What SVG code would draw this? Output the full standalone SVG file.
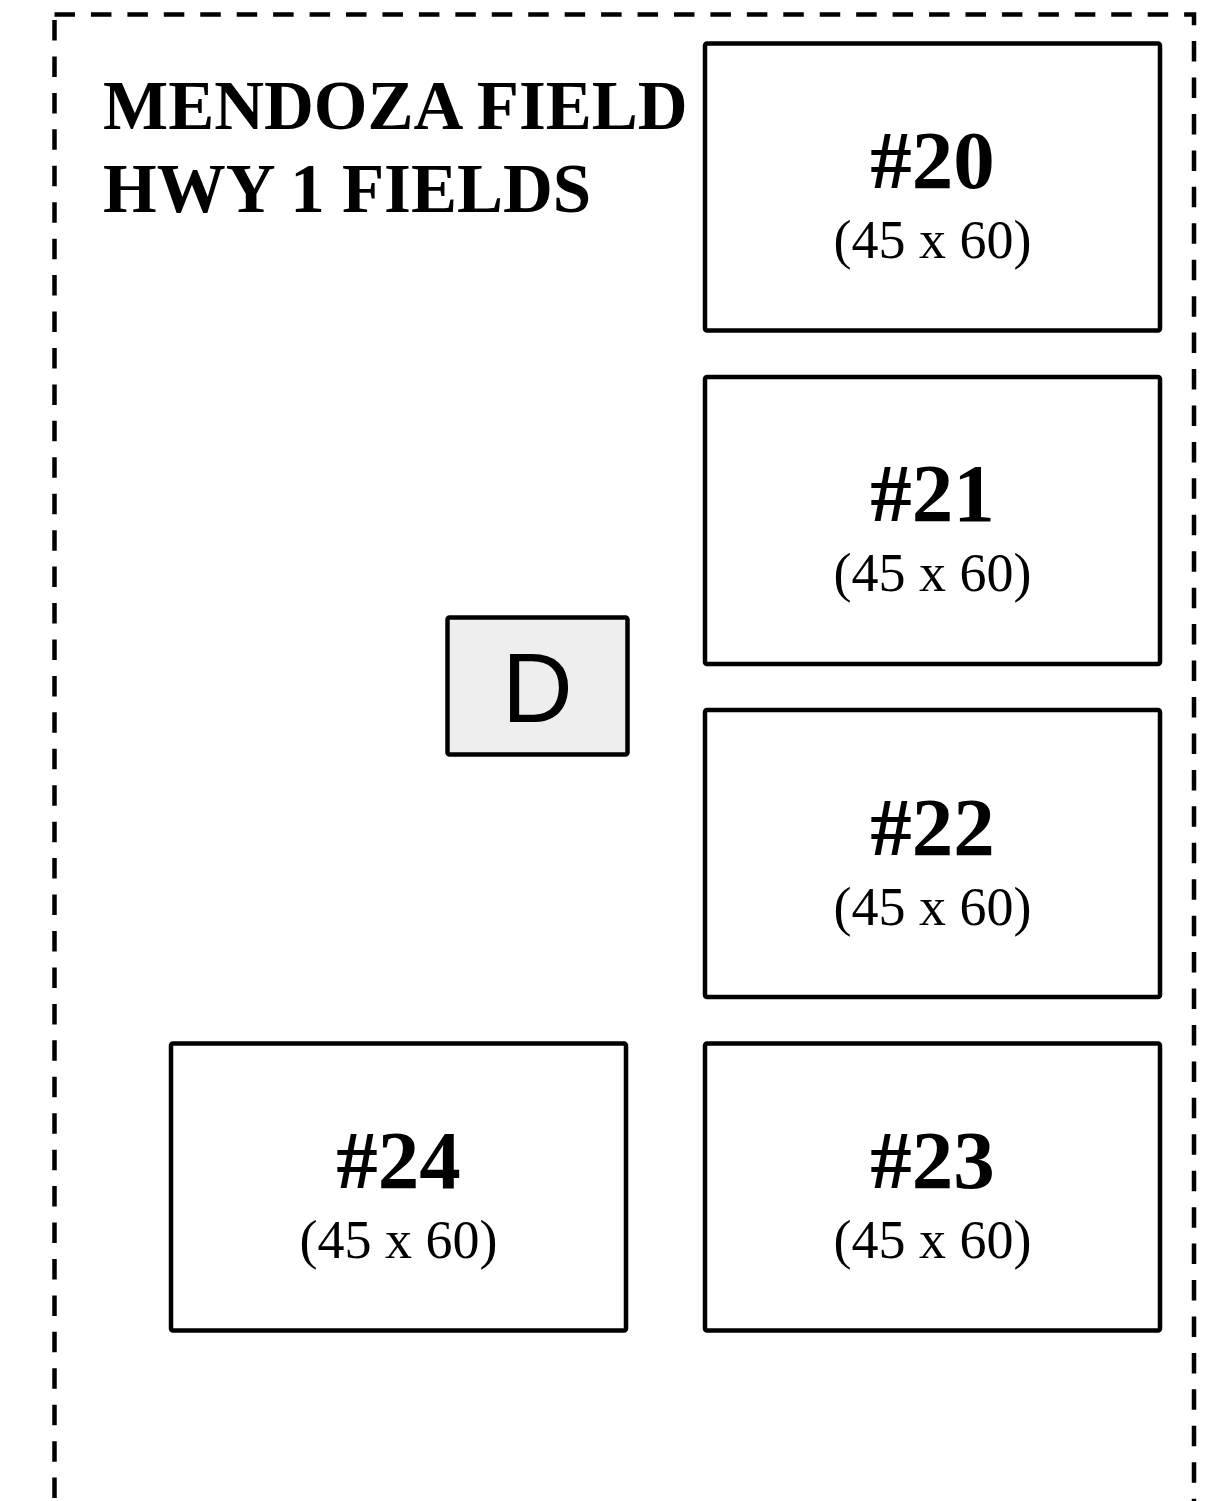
<svg xmlns="http://www.w3.org/2000/svg" width="1220" height="1501" viewBox="0 0 1220 1501">
<style>
.border{fill:none;stroke:#000;stroke-width:4.5;stroke-dasharray:20.5 15.94}
.field{fill:#fff;stroke:#000;stroke-width:4.5}
.dbox{fill:#eeeeee;stroke:#000;stroke-width:4.5}
.num{font-family:"Liberation Serif","Times New Roman",serif;font-weight:bold;font-size:83px;text-anchor:middle;fill:#000}
.size{font-family:"Liberation Serif","Times New Roman",serif;font-size:54px;text-anchor:middle;fill:#000}
.title{font-family:"Liberation Serif","Times New Roman",serif;font-weight:bold;font-size:69px;fill:#000}
.d{font-family:"Liberation Sans",Arial,sans-serif;font-size:98px;text-anchor:middle;fill:#000}
</style>
<rect width="1220" height="1501" fill="#fff"/>
<g id="border">
<path class="border" d="M54.5,14.5 L1194,14.5 L1194,1520"/>
<path class="border" d="M54.5,20 L54.5,1520"/>
</g>
<g id="title">
<text class="title" x="103" y="129">MENDOZA FIELD</text>
<text class="title" x="103" y="212">HWY 1 FIELDS</text>
</g>
<g id="connectors"></g>
<g id="field20">
<rect class="field" x="705" y="43.5" width="455" height="287" rx="2"/>
<text class="num" x="932.5" y="188">#20</text>
<text class="size" x="932.5" y="258">(45 x 60)</text>
</g>
<g id="field21">
<rect class="field" x="705" y="377" width="455" height="287" rx="2"/>
<text class="num" x="932.5" y="521">#21</text>
<text class="size" x="932.5" y="591">(45 x 60)</text>
</g>
<g id="field22">
<rect class="field" x="705" y="710" width="455" height="287" rx="2"/>
<text class="num" x="932.5" y="855">#22</text>
<text class="size" x="932.5" y="925">(45 x 60)</text>
</g>
<g id="field23">
<rect class="field" x="705" y="1043.5" width="455" height="287" rx="2"/>
<text class="num" x="932.5" y="1188">#23</text>
<text class="size" x="932.5" y="1258">(45 x 60)</text>
</g>
<g id="field24">
<rect class="field" x="171" y="1043.5" width="455" height="287" rx="2"/>
<text class="num" x="398.5" y="1188">#24</text>
<text class="size" x="398.5" y="1258">(45 x 60)</text>
</g>
<g id="dbox">
<rect class="dbox" x="447.5" y="617.5" width="180" height="137" rx="2"/>
<text class="d" x="537.5" y="722">D</text>
</g>
</svg>
